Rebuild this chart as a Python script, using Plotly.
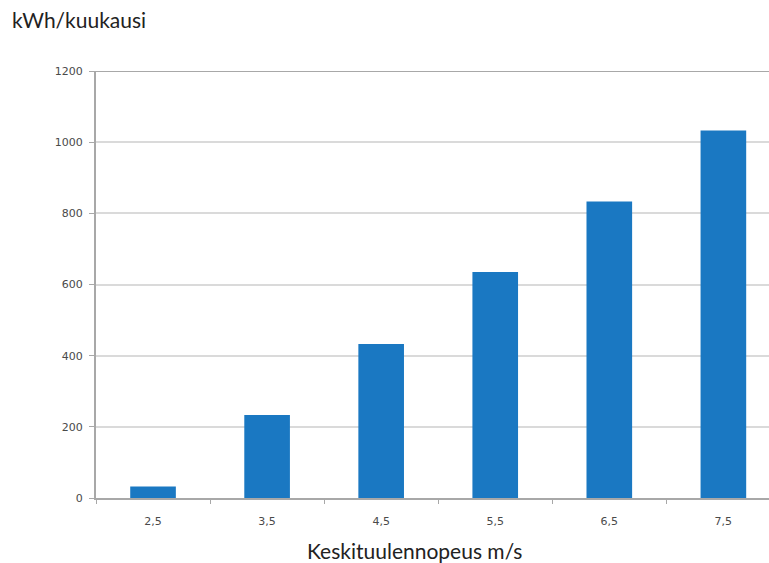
import plotly.graph_objects as go

# Mean wind speed categories (m/s) and monthly energy yield (kWh/month)
wind_speeds = ["2,5", "3,5", "4,5", "5,5", "6,5", "7,5"]
energy_kwh = [32, 233, 433, 635, 833, 1033]
y_ticks = [0, 200, 400, 600, 800, 1000, 1200]

AXIS_GRAY = "#a8a8a8"
GRID_GRAY = "#dadada"
BAR_BLUE = "#1a78c2"

PLOT_L, PLOT_T, PLOT_W, PLOT_H = 96, 71, 673, 427

fig = go.Figure(
    go.Bar(
        x=wind_speeds,
        y=energy_kwh,
        marker=dict(color=BAR_BLUE, line=dict(width=0)),
        width=0.4,
    )
)

fig.update_layout(
    width=769,
    height=563,
    margin=dict(l=PLOT_L, r=0, t=PLOT_T, b=65),
    paper_bgcolor="white",
    plot_bgcolor="white",
    showlegend=False,
    font=dict(family="Lato, sans-serif", color="#333333"),
    xaxis=dict(
        type="category",
        range=[-0.5, 5.4],
        showline=True,
        linecolor=AXIS_GRAY,
        linewidth=2,
        showgrid=False,
        ticks="outside",
        tickson="boundaries",
        ticklen=4,
        tickcolor=AXIS_GRAY,
        ticklabelstandoff=12,
        tickfont=dict(family="DejaVu Sans", size=11, color="#4a4a4a"),
    ),
    yaxis=dict(
        range=[0, 1200],
        tickvals=y_ticks,
        showline=True,
        linecolor=AXIS_GRAY,
        linewidth=2,
        showgrid=True,
        gridcolor=GRID_GRAY,
        gridwidth=1.5,
        zeroline=False,
        ticks="outside",
        ticklen=5,
        tickcolor=AXIS_GRAY,
        ticklabelstandoff=4,
        tickfont=dict(family="DejaVu Sans", size=11, color="#4a4a4a"),
    ),
    shapes=[
        dict(
            type="line", xref="paper", yref="y",
            x0=0, x1=1, y0=1200, y1=1200,
            line=dict(color=AXIS_GRAY, width=2),
        )
    ],
    annotations=[
        dict(
            text="kWh/kuukausi",
            xref="paper", yref="paper",
            x=(10 - PLOT_L) / PLOT_W, y=1 + 52 / PLOT_H,
            xanchor="left", yanchor="middle",
            showarrow=False,
            font=dict(family="Lato, sans-serif", size=21, color="#222222"),
        ),
        dict(
            text="Keskituulennopeus m/s",
            xref="paper", yref="paper",
            x=(414 - PLOT_L) / PLOT_W, y=-(550 - PLOT_T - PLOT_H) / PLOT_H,
            xanchor="center", yanchor="middle",
            showarrow=False,
            font=dict(family="Lato, sans-serif", size=21, color="#222222"),
        ),
    ],
)

fig.write_html("out.html")
